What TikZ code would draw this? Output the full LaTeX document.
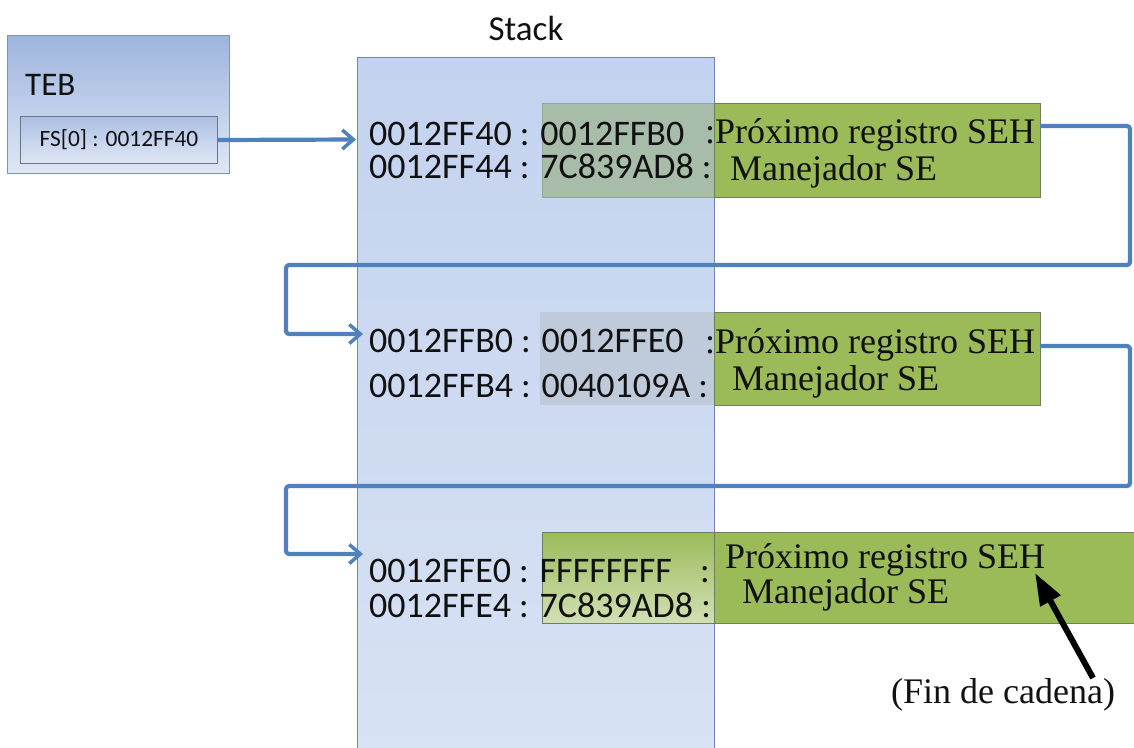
\documentclass[tikz,border=0pt]{standalone}
\usepackage{fontspec}
\setmainfont{Liberation Serif}
\newfontfamily\carl{Carlito}
\usetikzlibrary{arrows.meta}
\definecolor{sehblue}{HTML}{4F81BD}
\definecolor{sehgreen}{HTML}{9BBB59}
\definecolor{greenedge}{HTML}{6E7F5C}
\definecolor{stacktop}{HTML}{C3D2EE}
\definecolor{stackbot}{HTML}{D8E2F4}
\definecolor{stackedge}{HTML}{6F88B3}
\definecolor{tebtop}{HTML}{9DB4DE}
\definecolor{tebbot}{HTML}{DFE7F5}
\definecolor{tebedge}{HTML}{8093AD}
\definecolor{ovone}{HTML}{A7BCA9}
\definecolor{ovtwo}{HTML}{BFCBDA}
\definecolor{txt}{HTML}{111111}
\begin{document}
\begin{tikzpicture}[x=1pt,y=-1pt,
  box/.style={draw, inner sep=0pt, anchor=north west},
  hexa/.style={font=\carl\fontsize{36}{40}\selectfont, anchor=base west, inner sep=0pt, text=txt},
  serif/.style={font=\fontsize{36}{40}\selectfont, anchor=base west, inner sep=0pt, text=txt},
  conn/.style={draw=sehblue, line width=4.2pt, rounded corners=3pt, line join=round},
  tip/.style={-{Straight Barb[length=11pt,width=19pt,line width=3.5pt]}}
]
\useasboundingbox (0,0) rectangle (1134,747);
\fill[white] (0,0) rectangle (1134,747);

% TEB
\node[box, draw=tebedge, line width=1.2pt, top color=tebtop, bottom color=tebbot,
      minimum width=222pt, minimum height=138pt] (teb) at (7,35) {};
\node[font=\carl\fontsize{33}{38}\selectfont, anchor=base west, inner sep=0pt, text=txt] (teblbl) at (25,95) {TEB};
\node[box, draw=tebedge!80!black, line width=1pt, top color=tebtop!85!white, bottom color=tebbot,
      minimum width=197pt, minimum height=47pt] (fs) at (20,116) {};
\node[font=\carl\fontsize{23.4}{26}\selectfont, inner sep=0pt, text=txt] (fslbl) at (fs.center) {FS[0] : 0012FF40};

% Stack
\node[box, draw=stackedge, line width=1.2pt, top color=stacktop, bottom color=stackbot,
      minimum width=357pt, minimum height=700pt] (stack) at (357,57) {};
\node[font=\carl\fontsize{35}{40}\selectfont, anchor=base, inner sep=0pt, text=txt] (stklbl) at (526,40) {Stack};

% Row 1 boxes
\node[box, draw=greenedge!70!white, line width=1pt, fill=ovone,
      minimum width=172pt, minimum height=94pt] (ov1) at (542,103) {};
\node[box, draw=greenedge, line width=1pt, fill=sehgreen,
      minimum width=326pt, minimum height=94pt] (g1) at (714,103) {};
% Row 2 boxes
\node[box, draw=none, fill=ovtwo,
      minimum width=174pt, minimum height=93pt] (ov2) at (540,312) {};
\node[box, draw=greenedge, line width=1pt, fill=sehgreen,
      minimum width=326pt, minimum height=93pt] (g2) at (714,312) {};
% Row 3 box
\node[box, draw=greenedge, line width=1pt, fill=sehgreen,
      minimum width=600pt, minimum height=91pt] (g3) at (542,532) {};
\node[box, draw=greenedge, line width=1pt, top color=sehgreen, bottom color=sehgreen!45!white,
      minimum width=172pt, minimum height=91pt] (ov3) at (542,532) {};

% Row 1 text
\node[hexa] (a1) at (369,145) {0012FF40 : 0012FFB0};
\node[serif] (s1) at (705,143) {:Próximo registro SEH};
\node[hexa] (b1) at (369,178) {0012FF44 : 7C839AD8 :};
\node[serif] (m1) at (730,180) {Manejador SE};
% Row 2 text
\node[hexa] (a2) at (369,352) {0012FFB0 : 0012FFE0};
\node[serif] (s2) at (705,353) {:Próximo registro SEH};
\node[hexa] (b2) at (369,397) {0012FFB4 : 0040109A :};
\node[serif] (m2) at (732,390) {Manejador SE};
% Row 3 text
\node[hexa] (a3) at (369,582) {0012FFE0 : FFFFFFFF};
\node[hexa] (c3) at (700,582) {:};
\node[serif] (s3) at (725,568) {Próximo registro SEH};
\node[hexa] (b3) at (369,617) {0012FFE4 : 7C839AD8 :};
\node[serif] (m3) at (742,603) {Manejador SE};

% connectors
\coordinate (in1) at (356,139.5);
\coordinate (in2) at (363,334);
\coordinate (in3) at (363,554);
\coordinate (o1) at (1040,126);
\coordinate (o2) at (1040,346);
\draw[conn, tip] (fs.east) -- (in1);
\draw[conn, tip] (o1) -- (1130,126) -- (1130,265) -- (286,265) -- (286,334) -- (in2);
\draw[conn, tip] (o2) -- (1130,346) -- (1130,486) -- (286,486) -- (286,554) -- (in3);

% end of chain
\node[serif, anchor=base] (fin) at (1003,703) {(Fin de cadena)};
\coordinate (fintail) at (1093,678);
\coordinate (fintip) at (1035,573);
\draw[line width=6pt, -{Triangle[length=32pt,width=22pt]}] (fintail) -- (fintip);
\end{tikzpicture}
\end{document}
